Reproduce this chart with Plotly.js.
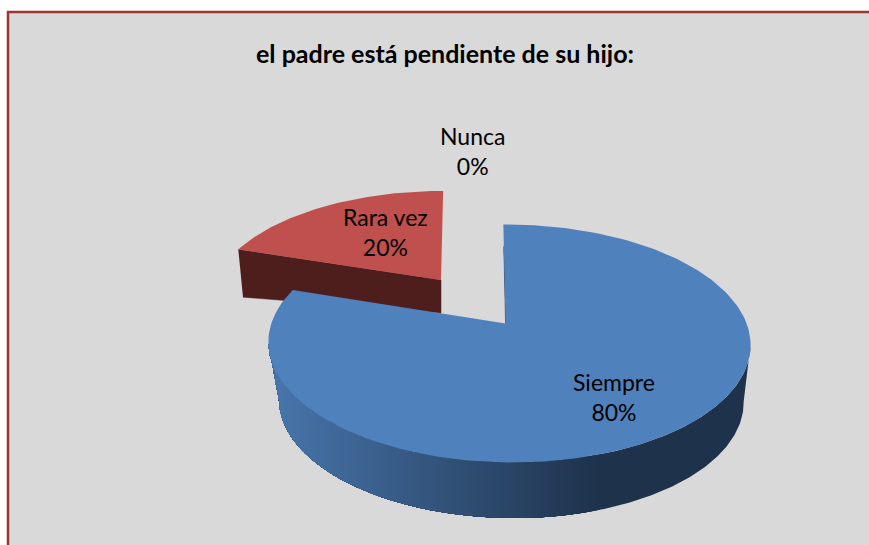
<!DOCTYPE html>
<html><head><meta charset="utf-8">
<script src="https://cdn.plot.ly/plotly-3.0.1.min.js"></script>
<style>html,body{margin:0;padding:0;background:#fff}#c{width:869px;height:545px}</style>
</head><body><div id="c"></div>
<script>
const chartTitle = 'el padre está pendiente de su hijo:';
const categories = ['Siempre', 'Nunca', 'Rara vez'];
const values = [80, 0, 20];
const faceColors = ['#4f81bd', '#9bbb59', '#c0504d'];
const labelAt = [[614, 397], [472, 151], [385, 232]];

// projection of the tilted pie onto the picture (pixel axes)
const faceBlue = {cx:505.5, cy:323.5, R:237.6, S:115.6, k:0.168, j:0.0145, skew:-2.5};
const baseBlue = {cx:507.5, cy:381, R:229, S:114, k:0.168, j:0.0145, skew:-2.5};
const faceRed  = {cx:441, cy:280, R:225, S:104, k:0.168, j:0, skew:2.5};
const baseRed  = {cx:441, cy:313, R:219, S:54, k:0.168, j:0, skew:0};

function proj(P, a, r){
  const u = r*Math.sin(a), v = r*Math.cos(a);
  const w = 1 + P.k*v - P.j*u;
  return [P.cx + (P.R*u + P.skew*v)/w, P.cy - P.S*v/w];
}
function lerp(a,b,t){return Math.round(a+(b-a)*t);}
function sideColor(x){
  const t = Math.max(0, Math.min(1, (x-272)/(600-272)));
  return 'rgb('+lerp(72,30,t)+','+lerp(118,50,t)+','+lerp(172,75,t)+')';
}
const traces = [];
function poly(pts, color, lw){
  traces.push({type:'scatter', mode:'lines', x:pts.map(p=>p[0]), y:pts.map(p=>p[1]),
    fill:'toself', fillcolor:color, line:{color:color, width:lw||0}, hoverinfo:'skip', showlegend:false});
}
function arc(P, a0, a1, n){
  const out=[]; for(let i=0;i<=n;i++) out.push(proj(P, a0+(a1-a0)*i/n, 1)); return out;
}
// part of a left-to-right polyline lying left of x, ending exactly at x
function clipLeft(line, x){
  const out=[];
  for(let i=0;i<line.length;i++){
    if(line[i][0]<=x){ out.push(line[i]); continue; }
    if(i>0){
      const p=line[i-1], q=line[i], t=(x-p[0])/(q[0]-p[0]);
      out.push([x, p[1]+(q[1]-p[1])*t]);
    }
    break;
  }
  return out;
}

const total = values.reduce((a,b)=>a+b,0);
let start = 0;
const spans = values.map(v=>{const s=[start, start+v/total*2*Math.PI]; start=s[1]; return s;});
const [a0Blue,a1Blue] = spans[0];
const [a0Red,a1Red]   = spans[2];

// red slice: wall facing the viewer, then face
poly([proj(faceRed,a0Red,1), proj(faceRed,0,0), proj(baseRed,0,0), proj(baseRed,a0Red,1)], '#4d1e1c', 0.5);
poly([proj(faceRed,0,0)].concat(arc(faceRed,a0Red,a1Red,60)), faceColors[2], 0);

// blue slice: inner wall, rim shaded in vertical bands from left to right, then face
poly([proj(faceBlue,0,0), proj(faceBlue,0,0.75), [proj(faceBlue,0,0)[0]+1.5, proj(faceBlue,0,0)[1]]], '#1e324b', 0.5);
const rimFrom = 3*Math.PI/2 - 0.17, rimTo = Math.PI/2 + 0.17, rimN = 240;
const rimTop = arc(faceBlue, rimFrom, rimTo, rimN);
const rimBottom = arc(baseBlue, rimFrom, rimTo, rimN);
poly(rimTop.concat(rimBottom.slice().reverse()), sideColor(600), 0);
for(let x=600; x>=272; x-=3){
  poly(clipLeft(rimTop,x).concat(clipLeft(rimBottom,x).reverse()), sideColor(x), 0);
}
poly([proj(faceBlue,0,0)].concat(arc(faceBlue,a0Blue,a1Blue,200)), faceColors[0], 0);

const labelFont = {family:'Lato, sans-serif', size:23, color:'#000'};
const annotations = categories.map((c,i)=>({
  x:labelAt[i][0], y:labelAt[i][1], xref:'x', yref:'y', showarrow:false,
  text:c+'<br>'+Math.round(values[i]/total*100)+'%', font:labelFont, align:'center'
}));
annotations.push({x:445, y:53, xref:'x', yref:'y', showarrow:false, text:'<b>'+chartTitle+'</b>',
  font:{family:'Lato, sans-serif', size:25, color:'#000'}});

const layout = {
  width:869, height:545, margin:{l:0,r:0,t:0,b:0}, paper_bgcolor:'#ffffff', plot_bgcolor:'rgba(0,0,0,0)',
  showlegend:false,
  xaxis:{range:[0,869], visible:false, fixedrange:true},
  yaxis:{range:[545,0], visible:false, fixedrange:true},
  shapes:[{type:'rect', layer:'below', xref:'x', yref:'y', x0:8, x1:880, y0:12, y1:560,
    fillcolor:'#d9d9d9', line:{color:'#9c3533', width:2.5}}],
  annotations
};
Plotly.newPlot('c', traces, layout, {displayModeBar:false, staticPlot:true});
</script></body></html>
